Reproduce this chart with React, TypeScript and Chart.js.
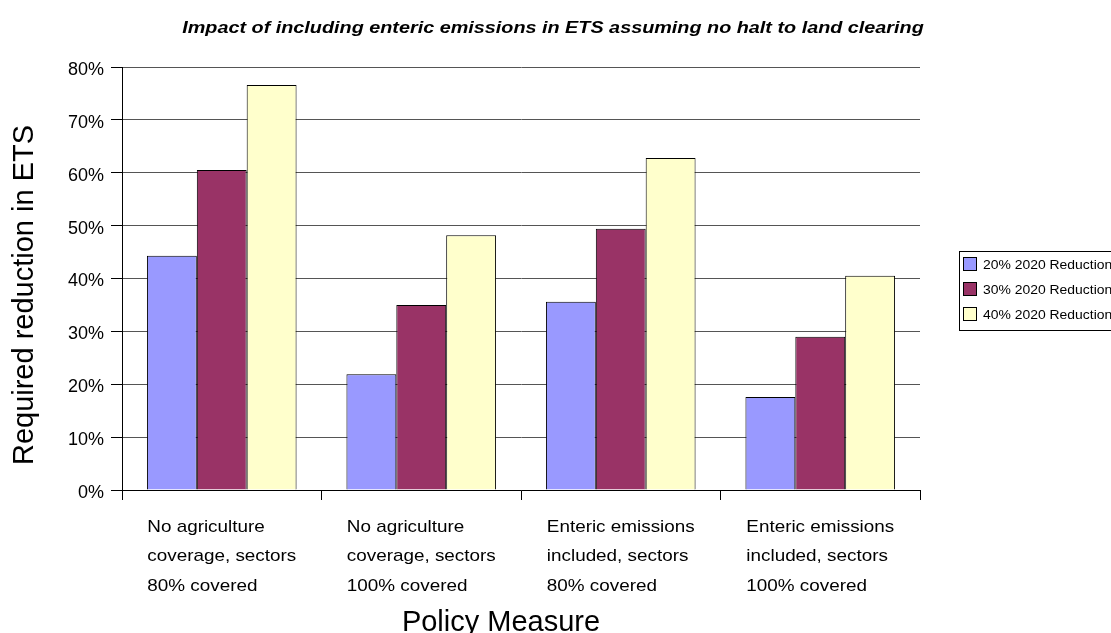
import React, { useEffect, useRef } from "react";
import { Chart, registerables } from "chart.js";

Chart.register(...registerables);

// Policy scenarios (x categories), one label line per entry
const categories: string[][] = [
  ["No agriculture", "coverage, sectors", "80% covered"],
  ["No agriculture", "coverage, sectors", "100% covered"],
  ["Enteric emissions", "included, sectors", "80% covered"],
  ["Enteric emissions", "included, sectors", "100% covered"],
];

const seriesNames = ["20% 2020 Reduction", "30% 2020 Reduction", "40% 2020 Reduction"];
const seriesColors = ["#9999FF", "#993366", "#FFFFCC"];

// Required reduction in ETS, percent
const reduction20 = [44.3, 21.9, 35.6, 17.6];
const reduction30 = [60.5, 35.0, 49.4, 29.0];
const reduction40 = [76.6, 48.2, 62.8, 40.5];

const yMin = 0;
const yMax = 80;
const yStep = 10;

const chartTitle = "Impact of including enteric emissions in ETS assuming no halt to land clearing";
const yTitle = "Required reduction in ETS";
const xTitle = "Policy Measure";

const FONT = "'Liberation Sans', Arial, Helvetica, sans-serif";

function drawText(
  ctx: CanvasRenderingContext2D,
  text: string,
  x: number,
  y: number,
  font: string,
  sx: number,
  align: CanvasTextAlign
) {
  ctx.save();
  ctx.font = font;
  ctx.fillStyle = "#000";
  ctx.textBaseline = "alphabetic";
  ctx.textAlign = align;
  ctx.translate(x, y);
  ctx.scale(sx, 1);
  ctx.fillText(text, 0, 0);
  ctx.restore();
}

const decorations = {
  id: "decorations",
  afterDraw(chart: any) {
    const ctx: CanvasRenderingContext2D = chart.ctx;
    const xScale = chart.scales.x;

    // chart title
    drawText(ctx, chartTitle, 553, 33, `italic bold 16.5px ${FONT}`, 1.2, "center");

    // y axis title
    ctx.save();
    ctx.font = `29px ${FONT}`;
    ctx.fillStyle = "#000";
    ctx.textAlign = "center";
    ctx.translate(33, 295);
    ctx.rotate(-Math.PI / 2);
    ctx.fillText(yTitle, 0, 0);
    ctx.restore();

    // x axis title
    drawText(ctx, xTitle, 501, 631, `29px ${FONT}`, 1, "center");

    // category labels: left-aligned lines in a block centred on the category
    const labelFont = `17px ${FONT}`;
    const labelSx = 1.11;
    ctx.save();
    ctx.font = labelFont;
    categories.forEach((lines, i) => {
      const cx = xScale.getPixelForValue(i);
      const w = Math.max(...lines.map((l) => ctx.measureText(l).width)) * labelSx;
      const left = cx - w / 2;
      lines.forEach((line, j) => {
        drawText(ctx, line, left, 531.5 + j * 29.5, labelFont, labelSx, "left");
      });
    });
    ctx.restore();

    // legend
    ctx.save();
    ctx.strokeStyle = "#000";
    ctx.lineWidth = 1;
    ctx.strokeRect(959.5, 251.5, 200, 79);
    seriesNames.forEach((name, i) => {
      const top = 257 + i * 25;
      ctx.fillStyle = seriesColors[i];
      ctx.fillRect(963.5, top + 0.5, 13, 13);
      ctx.strokeRect(963.5, top + 0.5, 13, 13);
      drawText(ctx, name, 983, top + 11.5, `12px ${FONT}`, 1.16, "left");
    });
    ctx.restore();
  },
};

export default function App() {
  const canvasRef = useRef<HTMLCanvasElement | null>(null);

  useEffect(() => {
    if (!canvasRef.current) return;
    const series = [reduction20, reduction30, reduction40];
    const chart = new Chart(canvasRef.current, {
      type: "bar",
      data: {
        labels: categories,
        datasets: series.map((values, i) => ({
          label: seriesNames[i],
          data: values,
          backgroundColor: seriesColors[i],
          borderColor: "#000",
          borderWidth: 1,
          categoryPercentage: 0.75,
          barPercentage: 1.0,
        })),
      },
      options: {
        animation: false,
        responsive: false,
        maintainAspectRatio: false,
        layout: { padding: { left: 68, top: 67, right: 191, bottom: 133 } },
        plugins: {
          legend: { display: false },
          title: { display: false },
          tooltip: { enabled: false },
        },
        scales: {
          x: {
            offset: true,
            ticks: { display: false },
            grid: {
              display: true,
              offset: true,
              drawOnChartArea: false,
              drawTicks: true,
              tickLength: 10,
              color: "#000",
            },
            border: { display: true, color: "#000", width: 1 },
            afterFit: (scale: any) => {
              scale.height = 10;
            },
          },
          y: {
            min: yMin,
            max: yMax,
            ticks: {
              stepSize: yStep,
              padding: 7,
              labelOffset: 3,
              color: "#000",
              font: { family: FONT, size: 18 },
              callback: (v: any) => `${v}%`,
            },
            grid: {
              color: "#555",
              lineWidth: 1,
              drawTicks: true,
              tickLength: 11,
              tickColor: "#000",
            },
            border: { display: true, color: "#000", width: 1 },
            afterFit: (scale: any) => {
              scale.width = 54;
            },
          },
        },
      },
      plugins: [decorations],
    });
    return () => chart.destroy();
  }, []);

  return (
    <div style={{ position: "fixed", left: 0, top: 0, width: 1111, height: 633, overflow: "hidden", background: "#fff" }}>
      <canvas ref={canvasRef} width={1111} height={633} style={{ display: "block" }} />
    </div>
  );
}
